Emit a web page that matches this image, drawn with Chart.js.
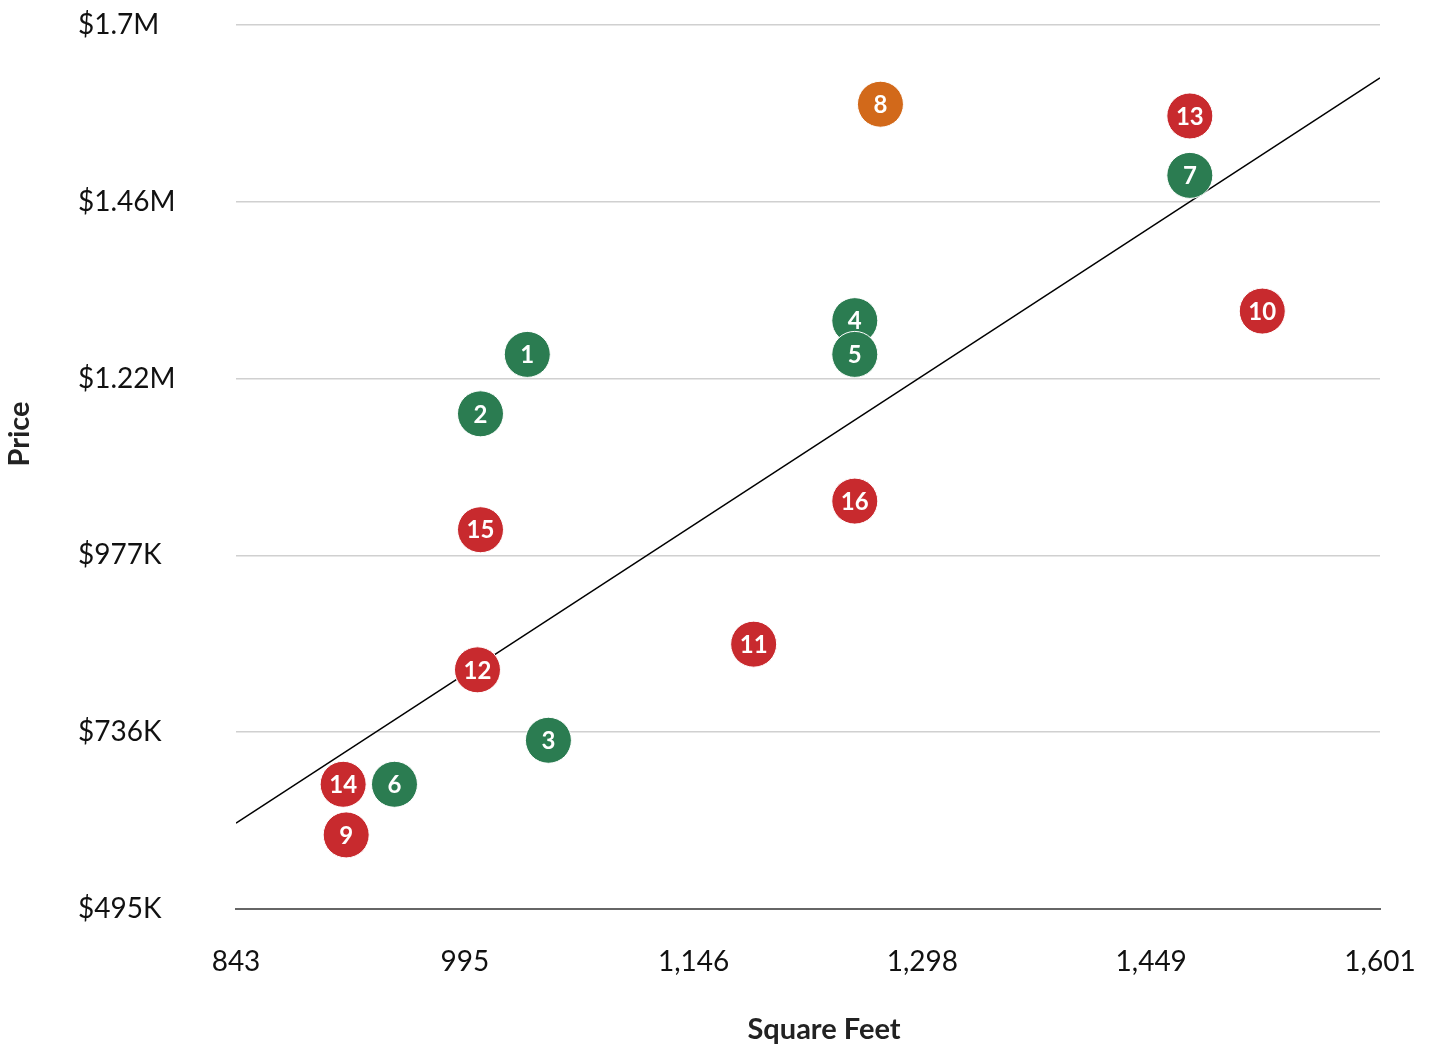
<!DOCTYPE html>
<html>
<head>
<meta charset="utf-8">
<script src="https://cdn.jsdelivr.net/npm/chart.js@4.4.1/dist/chart.umd.min.js"></script>
<style>
  html, body { margin: 0; padding: 0; background: #fff; }
  #wrap { width: 1430px; height: 1051px; }
</style>
</head>
<body>
<div id="wrap"><canvas id="myChart" width="1430" height="1051"></canvas></div>
<script>
//============== DATA ==============
const pointIds = ['1','2','3','4','5','6','7','8','9','10','11','12','13','14','15','16'];
const squareFeet = [1036, 1005, 1050, 1253, 1253, 948, 1475, 1270, 916, 1523, 1186, 1003, 1475, 914, 1005, 1253];
const prices = [1251000, 1170000, 725000, 1297000, 1251000, 665000, 1495000, 1592000, 596000, 1310000, 856000, 821000, 1576000, 665000, 1012000, 1051000];
const groups = ['good','good','good','good','good','good','good','mid','bad','bad','bad','bad','bad','bad','bad','bad'];

const trendX = [843, 1601];
const trendY = [612000, 1628000];

const xTickValues = [843, 994.6, 1146.2, 1297.8, 1449.4, 1601];
const xTickLabels = ['843', '995', '1,146', '1,298', '1,449', '1,601'];
const yTickValues = [495000, 736000, 977000, 1218000, 1459000, 1700000];
const yTickLabels = ['$495K', '$736K', '$977K', '$1.22M', '$1.46M', '$1.7M'];

const groupColors = {good: '#2b7c51', mid: '#d2691a', bad: '#c82a2e'};
const FONT = 'Lato, "Open Sans", sans-serif';

//============== PLUGINS ==============
// white numbers inside the bubbles + axis titles
const labelPlugin = {
  id: 'labelPlugin',
  afterDatasetsDraw(chart) {
    const ctx = chart.ctx;
    const meta = chart.getDatasetMeta(0);
    ctx.save();
    ctx.fillStyle = '#fff';
    ctx.font = 'bold 24px ' + FONT;
    ctx.textAlign = 'center';
    ctx.textBaseline = 'middle';
    meta.data.forEach((pt, i) => {
      ctx.fillText(pointIds[i], pt.x, pt.y + 1);
    });
    ctx.restore();
  },
  afterDraw(chart) {
    const ctx = chart.ctx;
    ctx.save();
    ctx.fillStyle = '#222';
    ctx.font = 'bold 29px ' + FONT;
    ctx.textAlign = 'center';
    ctx.textBaseline = 'middle';
    ctx.fillText('Square Feet', 824, 1030);
    ctx.translate(20, 434);
    ctx.rotate(-Math.PI / 2);
    ctx.fillText('Price', 0, 0);
    ctx.restore();
  }
};

//============== CHART ==============
const scatterData = squareFeet.map((x, i) => ({x: x, y: prices[i]}));
const trendData = trendX.map((x, i) => ({x: x, y: trendY[i]}));

new Chart(document.getElementById('myChart'), {
  type: 'scatter',
  data: {
    datasets: [
      {
        label: 'Homes',
        data: scatterData,
        order: 1,
        pointRadius: 23,
        pointHoverRadius: 23,
        pointBackgroundColor: groups.map(g => groupColors[g]),
        pointBorderColor: '#fff',
        pointBorderWidth: 1
      },
      {
        type: 'line',
        label: 'Trend',
        data: trendData,
        order: 2,
        borderColor: '#000',
        borderWidth: 1.5,
        pointRadius: 0,
        fill: false
      }
    ]
  },
  options: {
    responsive: false,
    animation: false,
    layout: {padding: {left: 78, right: 50, top: 25, bottom: 0}},
    plugins: {
      legend: {display: false},
      tooltip: {enabled: false}
    },
    scales: {
      x: {
        type: 'linear',
        min: 843,
        max: 1601,
        afterBuildTicks: s => { s.ticks = xTickValues.map(v => ({value: v})); },
        afterFit: s => { s.height = 142; s.paddingLeft = 0; s.paddingRight = 0; },
        grid: {display: false, drawTicks: false},
        border: {display: true, color: '#666', width: 2},
        ticks: {
          padding: 36,
          color: '#111',
          font: {family: FONT, size: 28},
          maxRotation: 0,
          callback: (v, i) => xTickLabels[i]
        }
      },
      y: {
        min: 495000,
        max: 1700000,
        afterBuildTicks: s => { s.ticks = yTickValues.map(v => ({value: v})); },
        afterFit: s => { s.width = 158; s.paddingTop = 0; s.paddingBottom = 0; },
        grid: {color: '#d0d0d0', lineWidth: 1.5, drawTicks: false},
        border: {display: false},
        ticks: {
          crossAlign: 'far',
          color: '#111',
          font: {family: FONT, size: 28},
          callback: (v, i) => yTickLabels[i]
        }
      }
    }
  },
  plugins: [labelPlugin]
});
</script>
</body>
</html>
